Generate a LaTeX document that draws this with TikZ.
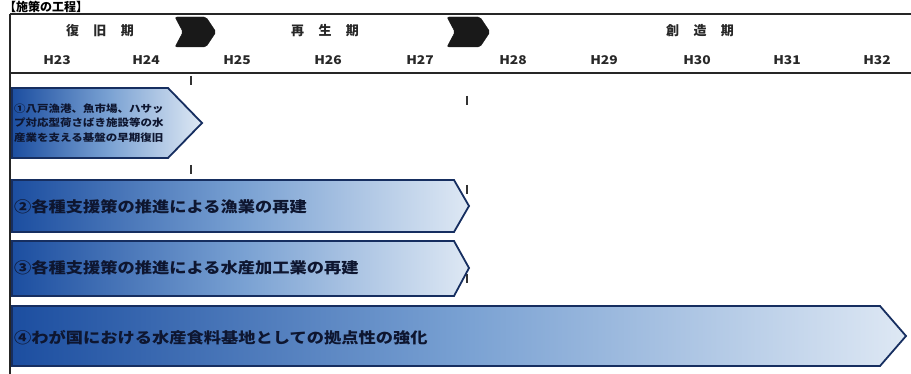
\documentclass[tikz,border=0pt]{standalone}
\usepackage{fontspec}
\newfontfamily\jp{Noto Sans CJK JP}
\newfontfamily\jpw[FakeStretch=1.15]{Noto Sans CJK JP}
\definecolor{bardark}{RGB}{28,78,160}
\definecolor{barmid}{RGB}{120,160,210}
\definecolor{barlight}{RGB}{222,232,244}
\definecolor{barline}{RGB}{22,46,96}
\definecolor{bartxt}{RGB}{14,22,48}
\definecolor{hdtxt}{RGB}{40,40,40}

\begin{document}
\begin{tikzpicture}[x=1pt,y=-1pt]
\tikzset{frame/.style = {line width=1.6pt, black!85}}
\tikzset{year/.style = {font=\jpw\bfseries\fontsize{12}{12}\selectfont, text=hdtxt}}
\tikzset{period/.style = {font=\jp\bfseries\fontsize{13}{13}\selectfont, text=hdtxt}}
\tikzset{sep/.style = {fill=black!90, draw=black!90, rounded corners=2pt}}
\tikzset{bar/.style = {draw=barline, line width=1.8pt, left color=bardark, right color=barlight, middle color=barmid}}
\tikzset{bartext/.style = {anchor=west, inner sep=0pt, text=bartxt, font=\jpw\bfseries\fontsize{15}{15}\selectfont}}
\tikzset{guide/.style = {black!80, line width=1.4pt, dash pattern=on 9pt off 80pt}}
\useasboundingbox (0,0) rectangle (911,374);
\fill[white] (0,0) rectangle (911,374);
% title
\node[anchor=west, inner sep=0pt, font=\jp\bfseries\fontsize{12}{12}\selectfont] (title) at (4,6.5) {【施策の工程】};
% frame
\draw[frame] (10,14) -- (911,14);
\draw[frame] (10,73) -- (911,73);
\draw[frame] (10,14) -- (10,374);
% periods
\node[period] (p1) at (100,31) {復\hspace{1.1em}旧\hspace{1.1em}期};
\node[period] (p2) at (325,31) {再\hspace{1.1em}生\hspace{1.1em}期};
\node[period] (p3) at (700,31) {創\hspace{1.1em}造\hspace{1.1em}期};
\draw[sep] (175,17) -- (206,17) -- (216,32) -- (206,47) -- (175,47) -- (183,32) -- cycle;
\draw[sep] (447,17) -- (480,17) -- (490,32) -- (480,47) -- (447,47) -- (455,32) -- cycle;
% years
\node[year] (h23) at (57,60) {H23};
\node[year] (h24) at (146,60) {H24};
\node[year] (h25) at (237,60) {H25};
\node[year] (h26) at (328,60) {H26};
\node[year] (h27) at (420,60) {H27};
\node[year] (h28) at (513,60) {H28};
\node[year] (h29) at (604,60) {H29};
\node[year] (h30) at (697,60) {H30};
\node[year] (h31) at (787,60) {H31};
\node[year] (h32) at (877,60) {H32};
% guides
\coordinate (g1) at (191,76);
\coordinate (g2) at (467,96);
\draw[guide] (g1) -- ++(0,230);
\draw[guide] (g2) -- ++(0,210);
% bars
\path[bar] (12,88) -- (168,88) -- (202,123) -- (168,158) -- (12,158) -- cycle;
\path[bar] (12,180) -- (454,180) -- (469,206) -- (454,232) -- (12,232) -- cycle;
\path[bar] (12,241) -- (454,241) -- (469,268) -- (454,296) -- (12,296) -- cycle;
\path[bar] (12,306) -- (880,306) -- (906,336) -- (880,366) -- (12,366) -- cycle;
\node[bartext, align=left, font=\jpw\bfseries\fontsize{10}{14.5}\selectfont] (b1) at (14,123) {①八戸漁港、魚市場、ハサッ\\プ対応型荷さばき施設等の水\\産業を支える基盤の早期復旧};
\node[bartext] (b2) at (14,207) {②各種支援策の推進による漁業の再建};
\node[bartext] (b3) at (14,268) {③各種支援策の推進による水産加工業の再建};
\node[bartext] (b4) at (14,338) {④わが国における水産食料基地としての拠点性の強化};
\end{tikzpicture}
\end{document}
